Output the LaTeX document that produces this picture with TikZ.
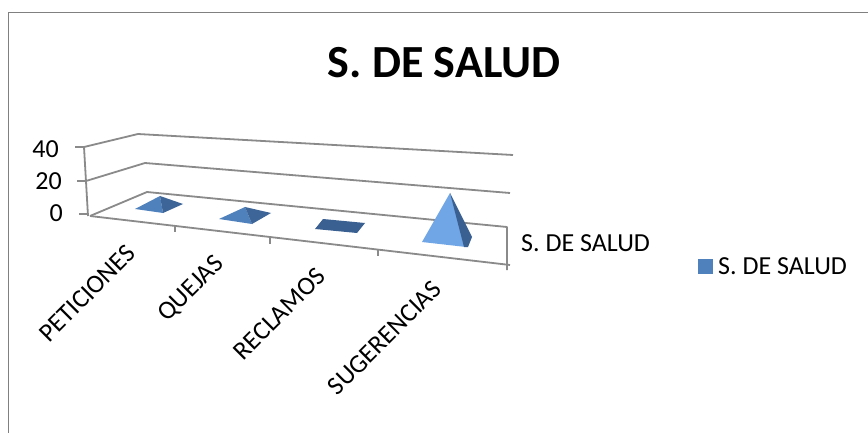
\documentclass[tikz,border=0pt]{standalone}
\usepackage{fontspec}
\setmainfont{Carlito}
\definecolor{framegray}{RGB}{128,128,128}
\definecolor{axisgray}{RGB}{138,138,138}
\definecolor{bluemid}{RGB}{79,129,189}
\definecolor{bluedark}{RGB}{58,96,146}
\definecolor{bluelight}{RGB}{112,166,230}
\tikzset{
  axisline/.style={draw=axisgray, line width=1.8pt, line join=round},
  framestyle/.style={draw=framegray, line width=1.6pt},
  lbl/.style={inner sep=0pt, font=\fontsize{26}{30}\selectfont},
  catlbl/.style={lbl, rotate=45, anchor=north east},
}
\begin{document}
\begin{tikzpicture}[x=1pt,y=-1pt]
\useasboundingbox (0,0) rectangle (868,433);
\fill[white] (0,0) rectangle (868,433);
% frame
\draw[framestyle] (8.5,433) -- (8.5,12.7) -- (868,12.7);
% title
\node[inner sep=0pt, font=\fontsize{46}{50}\selectfont\bfseries] (title) at (444,62.5) {S. DE SALUD};
% walls
\draw[axisline] (84,147) -- (138,134) -- (513,155);
\draw[axisline] (86,181) -- (145,163) -- (510,193);
\draw[axisline] (90,216) -- (147,192) -- (507,227) -- (507,270);
\draw[axisline] (90,216) -- (510,265);
\draw[axisline] (84,147) -- (88,216);
% y ticks
\draw[axisline] (75,147) -- (85,147);
\draw[axisline] (77,181) -- (86,181);
\draw[axisline] (79,214) -- (89,214);
% x ticks
\draw[axisline] (175,226) -- (175,232);
\draw[axisline] (270,237.5) -- (270,244);
\draw[axisline] (378,250) -- (378,256);
% y labels
\node[lbl, anchor=east] (y40) at (59,149.5) {40};
\node[lbl, anchor=east] (y20) at (62,181.5) {20};
\node[lbl, anchor=east] (y0) at (63,213.5) {0};
% pyramids
\fill[bluemid] (135,209) -- (160,196) -- (163,213) -- cycle;
\fill[bluedark!85!bluemid] (160,196) -- (183,204) -- (163,213) -- cycle;
\fill[bluemid] (219,219) -- (245,207) -- (252,224) -- cycle;
\fill[bluedark!85!bluemid] (245,207) -- (271,213) -- (252,224) -- cycle;
\fill[bluedark] (315,229) -- (323,219) -- (365,223) -- (357,233) -- cycle;
\fill[bluelight] (450,193) -- (422,242) -- (466,247) -- cycle;
\fill[bluedark] (450,193) -- (472,237) -- (468,247) -- (464,247) -- cycle;
% category labels
\node[catlbl] (c1) at (125,243) {PETICIONES};
\node[catlbl] (c2) at (213,253) {QUEJAS};
\node[catlbl] (c3) at (315,266) {RECLAMOS};
\node[catlbl] (c4) at (431,279) {SUGERENCIAS};
% series label
\node[lbl, anchor=west] (series) at (521,243.5) {S. DE SALUD};
% legend
\fill[bluemid] (698,259) rectangle (713,274);
\node[lbl, anchor=west] (legend) at (718,266) {S. DE SALUD};
\end{tikzpicture}
\end{document}
